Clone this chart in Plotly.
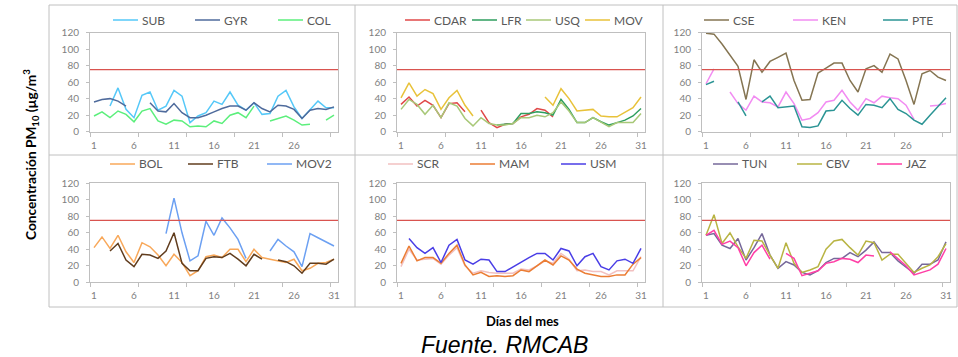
import plotly.graph_objects as go

W, H = 958, 357
DAYS = list(range(1, 32))
LIMIT = 75
N = None

# Panel 1
SUB = [N, N, 31, 53, 27, 17, 44, 48, 26, 31, 50, 43, 11, 19, 23, 37, 33, 48, 32, 26, 35, 21, 22, 43, 50, 30, 16, 26, 37, 29, 29]
GYR = [36, 39, 40, 37, 31, N, N, 35, 25, 24, 34, 23, 17, 17, 20, 24, 28, 31, 31, 26, 35, 28, 24, 32, 31, 27, 16, 26, 28, 27, 30]
COL = [19, 24, 17, 25, 21, 12, 25, 28, 13, 9, 14, 13, 6, 7, 6, 13, 10, 20, 23, 17, 31, N, 13, 16, 19, 14, 8, 9, N, 14, 20]
# Panel 2
CDAR = [33, 42, 31, 38, 32, 17, 34, 35, 24, N, 26, 11, 5, 9, 10, 18, 21, 28, 26, 18, N, N, N, N, N, N, N, N, N, N, N]
LFR = [N, N, N, N, N, N, N, N, N, N, N, N, 8, 9, 10, 22, 22, 24, 23, 20, 39, 27, 11, 11, 17, 12, 8, 11, 14, 19, 28]
USQ = [27, 39, 33, 21, 32, 17, 35, 31, 16, 7, 17, 10, 8, 8, 10, 17, 17, 20, 18, 23, 36, 25, 11, 11, 17, 12, 6, 11, 11, 11, 22]
MOV = [41, 59, 43, 51, 46, 27, 41, 50, 32, 19, N, N, N, N, N, N, N, N, 42, 32, 52, 40, 25, 26, 27, 19, 18, 18, 23, 29, 42]
# Panel 3
CSE = [119, 118, 106, 93, 79, 39, 87, 72, 85, 90, 95, 62, 38, 39, 71, 77, 83, 83, 62, 48, 76, 80, 72, 94, 88, 62, 33, 70, 74, 66, 62]
KEN = [58, 76, N, 48, 34, 26, 43, 36, 35, 30, 48, 34, 14, 16, 23, 36, 38, 50, 36, 26, 40, 35, 43, 41, 40, 32, 15, N, 31, 32, 34]
PTE = [57, 61, N, N, 36, 19, N, 36, 43, 29, 30, 31, 6, 5, 7, 25, 26, 38, 28, 20, 33, 32, 29, 40, 27, 22, 14, 9, 20, 31, 41]
# Panel 4
BOL = [42, 55, 41, 57, 37, 24, 48, 43, 33, 20, 34, 24, 8, 14, 31, 33, 30, 40, 40, 25, 40, 30, 28, 26, 24, 28, 14, 17, 23, 24, 28]
FTB = [N, N, 38, 47, 27, 19, 34, 33, 29, 38, 60, 23, 14, 14, 29, 31, 30, 35, 28, 20, 34, 28, N, 27, 25, 20, 11, 23, 23, 22, 28]
MOV2 = [N, N, N, N, N, N, N, N, N, 59, 102, 60, 26, 32, 74, 57, 78, 66, 52, 29, N, N, 38, 52, 44, 37, 19, 59, 54, 49, 44]
# Panel 5
SCR = [19, 40, 27, 28, 29, 22, 33, 42, 20, 11, 14, 12, 11, 11, 11, 16, 15, 20, 26, 23, 35, 28, 14, 15, 13, 13, 9, 14, 14, 14, 31]
MAM = [23, 44, 26, 30, 30, 23, 35, 45, 21, 9, 12, 7, 8, 7, 8, 15, 13, 20, 27, 21, 32, 27, 16, 11, 9, 7, 7, 9, 9, 22, 30]
USM = [N, 53, 42, 35, 42, 24, 45, 52, 27, 22, 28, 27, 13, 13, 19, 25, 30, 35, 35, 27, 41, 38, 20, 31, 35, 19, 15, 26, 28, 23, 41]
# Panel 6
TUN = [57, 59, 45, 41, 53, 27, 42, 59, 33, 17, 25, 21, 12, 9, 14, 24, 29, 29, 36, 31, 39, 49, 36, 36, 26, 19, 11, 22, 22, 27, 49]
CBV = [57, 82, 47, 60, 43, 29, 51, 50, 33, 17, 48, 23, 12, 15, 19, 40, 50, 52, 42, 33, 50, 48, 27, 34, 34, 23, 12, 17, 21, 31, 47]
JAZ = [57, 63, 46, 50, 42, 20, 36, 45, 28, N, 35, 29, 8, 11, 14, 23, 25, 29, 28, 24, 33, 32, N, 37, 29, 20, 9, 12, 15, 22, 41]

TICKS_FULL = [1, 6, 11, 16, 21, 26, 31]
TICKS_SHORT = [1, 6, 11, 16, 21, 26]
Y_TICKS = [0, 20, 40, 60, 80, 100, 120]

# legend item start positions (px) per panel
panels = [
    dict(series=[("SUB", SUB, "#55c8f8"), ("GYR", GYR, "#4f6b9c"), ("COL", COL, "#5cef7c")],
         ticks=TICKS_SHORT, row=0, col=0, leg=[113, 195, 278]),
    dict(series=[("CDAR", CDAR, "#e04848"), ("LFR", LFR, "#2e9e5e"), ("USQ", USQ, "#a8c878"), ("MOV", MOV, "#e8c23a")],
         ticks=TICKS_FULL, row=0, col=1, leg=[405, 472, 526, 585]),
    dict(series=[("CSE", CSE, "#857552"), ("KEN", KEN, "#f28cf2"), ("PTE", PTE, "#2b9494")],
         ticks=TICKS_SHORT, row=0, col=2, leg=[704, 793, 883]),
    dict(series=[("BOL", BOL, "#f8a85a"), ("FTB", FTB, "#613d1e"), ("MOV2", MOV2, "#6ca0f2")],
         ticks=TICKS_FULL, row=1, col=0, leg=[110, 188, 267]),
    dict(series=[("SCR", SCR, "#f2c0c0"), ("MAM", MAM, "#eb7d34"), ("USM", USM, "#4a3ee6")],
         ticks=TICKS_FULL, row=1, col=1, leg=[388, 470, 561]),
    dict(series=[("TUN", TUN, "#76689a"), ("CBV", CBV, "#b8b443"), ("JAZ", JAZ, "#ff3fa6")],
         ticks=TICKS_FULL, row=1, col=2, leg=[713, 797, 877]),
]

col_px = [(90, 338), (397, 645), (702, 950)]
row_px = [(32.5, 131.7), (183.3, 282.3)]
legend_y = [20, 164]


def px_x(v):
    return v / W


def px_y(v):
    return 1 - v / H


fig = go.Figure()
layout = dict(width=W, height=H, margin=dict(l=0, r=0, t=0, b=0),
              paper_bgcolor="white", plot_bgcolor="white", showlegend=False)
annotations = []

AX = "#bfbfbf"
for i, p in enumerate(panels, start=1):
    xa = "x" if i == 1 else f"x{i}"
    ya = "y" if i == 1 else f"y{i}"
    ly = legend_y[p["row"]]
    for (name, vals, color), lx in zip(p["series"], p["leg"]):
        fig.add_trace(go.Scatter(x=DAYS, y=vals, mode="lines", name=name,
                                 line=dict(color=color, width=1.5),
                                 xaxis=xa, yaxis=ya, connectgaps=False,
                                 hoverinfo="skip", showlegend=False))
        # legend key
        fig.add_shape(type="line", xref="paper", yref="paper",
                      x0=px_x(lx), x1=px_x(lx + 25), y0=px_y(ly), y1=px_y(ly),
                      line=dict(color=color, width=1.5))
        annotations.append(dict(text=name, x=px_x(lx + 27), y=px_y(ly), xref="paper", yref="paper",
                                showarrow=False, xanchor="left", yanchor="middle",
                                font=dict(family="Lato", size=12, color="#595959")))
    x0, x1 = col_px[p["col"]]
    y0, y1 = row_px[p["row"]]
    layout["xaxis" if i == 1 else f"xaxis{i}"] = dict(
        domain=[px_x(x0), px_x(x1)], anchor=ya, range=[0.5, 31.5],
        tickvals=p["ticks"], ticks="", showgrid=False, zeroline=False,
        showline=True, linecolor=AX, linewidth=1, mirror=True,
        tickfont=dict(family="Lato", size=10, color="#7f7f7f"),
        ticklabelstandoff=4, automargin=False,
        minor=dict(tickvals=[0.5, 6.5, 12.5, 18.5, 24.5, 30.5], ticks="outside",
                   ticklen=4, tickcolor=AX, showgrid=False),
    )
    layout["yaxis" if i == 1 else f"yaxis{i}"] = dict(
        domain=[px_y(y1), px_y(y0)], anchor=xa, range=[0, 120],
        tickvals=Y_TICKS, ticks="outside", ticklen=3, tickcolor=AX,
        showgrid=False, zeroline=False, showline=True, linecolor=AX,
        linewidth=1, mirror=True, ticklabelstandoff=5, automargin=False,
        tickfont=dict(family="Lato", size=10, color="#7f7f7f"),
    )
    fig.add_shape(type="line", xref=f"{xa} domain", yref=ya, x0=0, x1=1,
                  y0=LIMIT, y1=LIMIT, line=dict(color="#d9534f", width=1.3))

# cell grid lines
GRID = "#c0c0c0"
shapes_paper = [
    (49, 5, 957, 5), (49, 307, 957, 307), (49, 5, 49, 307), (957, 5, 957, 307),
    (49, 155, 957, 155), (355, 5, 355, 307), (663, 5, 663, 307),
]
for a, b, c, d in shapes_paper:
    fig.add_shape(type="line", xref="paper", yref="paper",
                  x0=px_x(a), y0=px_y(b), x1=px_x(c), y1=px_y(d),
                  line=dict(color=GRID, width=1))

annotations += [
    dict(text="<b>Concentración PM<sub>10</sub> (µg/m<sup>3</sup></b>", x=px_x(31), y=px_y(155),
         xref="paper", yref="paper", showarrow=False, textangle=-90,
         font=dict(family="Lato", size=13.7, color="#000000"),
         xanchor="center", yanchor="middle"),
    dict(text="<b>Días del mes</b>", x=px_x(522), y=px_y(321), xref="paper", yref="paper",
         showarrow=False, font=dict(family="Lato", size=13, color="#000000"),
         xanchor="center", yanchor="middle"),
    dict(text="<i>Fuente. RMCAB</i>", x=px_x(504), y=px_y(345), xref="paper", yref="paper",
         showarrow=False, font=dict(family="Liberation Sans", size=23, color="#000000"),
         xanchor="center", yanchor="middle"),
]
layout["annotations"] = annotations
fig.update_layout(**layout)
fig.write_html("out.html")
